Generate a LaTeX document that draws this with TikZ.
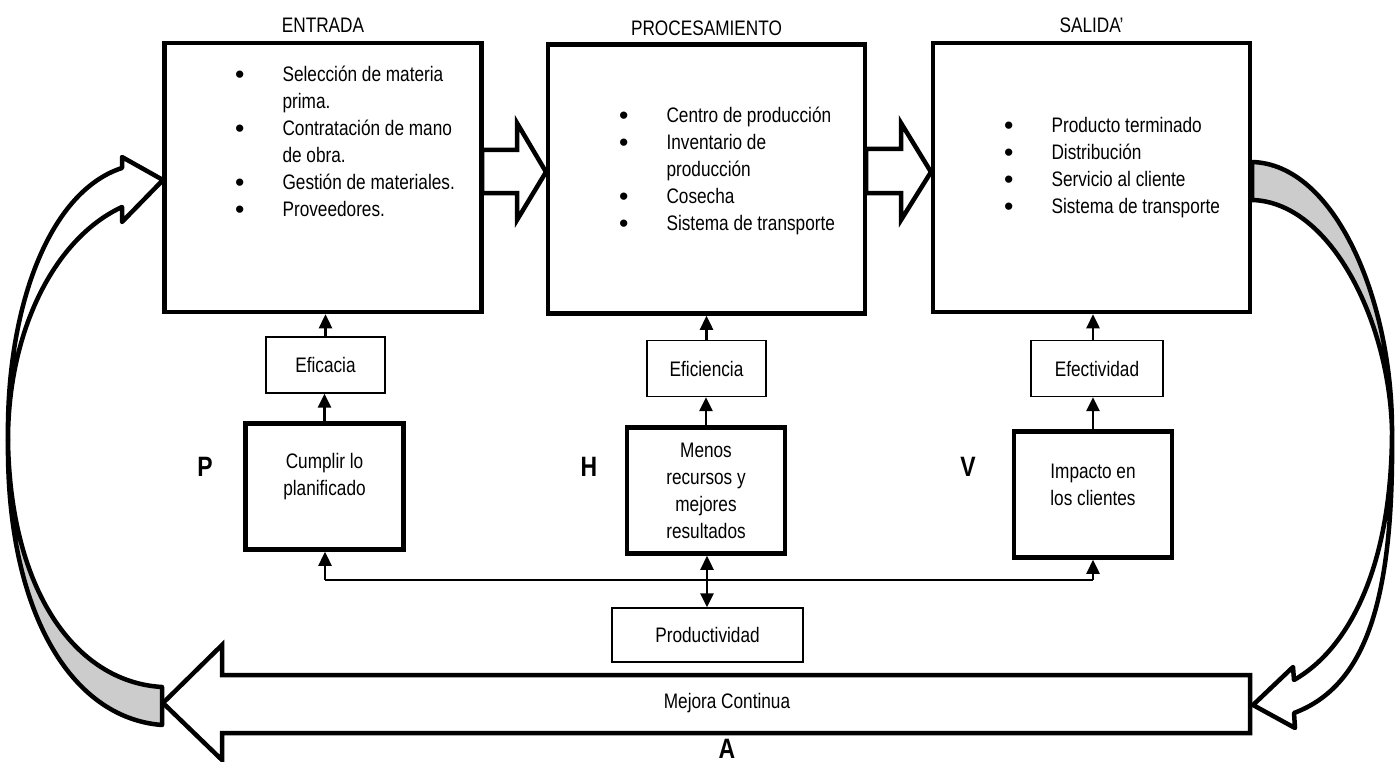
\documentclass[tikz,border=0pt]{standalone}
\usepackage{fontspec}
\setmainfont{Liberation Sans}[FakeStretch=0.82]
\usetikzlibrary{positioning,arrows.meta}

\newcommand{\punto}{\raisebox{-2pt}{\scalebox{1.55}[1.27]{\textbullet}}}

\tikzset{
  >={Triangle[length=14pt,width=13pt]},
  bigbox/.style={draw, line width=4.5pt, minimum width=317pt, minimum height=269pt},
  thinbox/.style={draw, line width=1.3pt, minimum height=56pt},
  thickbox/.style={draw, line width=4.5pt, minimum width=158pt, minimum height=126pt, align=center},
  upper/.style={align=center, yshift=10pt},
  titulo/.style={inner sep=0pt},
  lista/.style={anchor=north west, inner sep=0pt},
  conn/.style={line width=2.4pt},
  bus/.style={line width=2pt},
  hollow/.style={draw, fill=white, line width=4.5pt, miter limit=20},
  ribbon/.style={draw, line width=4.5pt, line join=round},
  letra/.style={font=\fontsize{28}{30}\selectfont\bfseries}
}

\begin{document}
\begin{tikzpicture}[x=1pt, y=-1pt, font=\fontsize{21}{27}\selectfont]
    \useasboundingbox (0,0) rectangle (1396,762);
    % curved arrows
    \filldraw[ribbon, fill=gray!40] (1252,162) .. controls (1335,164) and (1392,300) .. (1392,430) .. controls (1389,320) and (1330,202) .. (1252,200) -- cycle;
    \filldraw[ribbon, fill=white] (1392,430) .. controls (1392,565) and (1350,648) .. (1294,680) -- (1293,667) -- (1253,705) -- (1295,728) -- (1294,713) .. controls (1366,686) and (1394,600) .. (1392,430) -- cycle;
    \filldraw[ribbon, fill=white] (8,440) .. controls (8,330) and (55,238) .. (122,207) -- (122,222) -- (163,180) -- (122,157) -- (122,168) .. controls (48,192) and (6,310) .. (8,440) -- cycle;
    \filldraw[ribbon, fill=gray!40] (8,440) .. controls (10,590) and (75,682) .. (162,687) -- (162,725) .. controls (70,718) and (6,610) .. (8,440) -- cycle;

    % main boxes
    \node[bigbox] (entrada) at (323,177.5) {};
    \node[bigbox] (proc) at (706.5,179) {};
    \node[bigbox] (salida) at (1091.5,177.5) {};
    \node[titulo, above=8pt of entrada] (tEntrada) {ENTRADA};
    \node[titulo, above=6pt of proc] (tProc) {PROCESAMIENTO};
    \node[titulo, above=8pt of salida] (tSalida) {SALIDA’};

    \node[lista] (lEntrada) at (235,62) {\begin{tabular}{@{}l@{\hspace{38pt}}l@{}}
      \punto & Selección de materia\\
             & prima.\\
      \punto & Contratación de mano\\
             & de obra.\\
      \punto & Gestión de materiales.\\
      \punto & Proveedores.
    \end{tabular}};
    \node[lista] (lProc) at (619,103.5) {\begin{tabular}{@{}l@{\hspace{38pt}}l@{}}
      \punto & Centro de producción\\
      \punto & Inventario de\\
             & producción\\
      \punto & Cosecha\\
      \punto & Sistema de transporte
    \end{tabular}};
    \node[lista] (lSalida) at (1004,113.5) {\begin{tabular}{@{}l@{\hspace{38pt}}l@{}}
      \punto & Producto terminado\\
      \punto & Distribución\\
      \punto & Servicio al cliente\\
      \punto & Sistema de transporte
    \end{tabular}};

    % block arrows
    \filldraw[hollow] (482,150) -- (517,150) -- (517,123) -- (546,172) -- (517,220) -- (517,193) -- (482,193) -- cycle;
    \filldraw[hollow] (866,149) -- (901,149) -- (901,123) -- (931,172) -- (901,220) -- (901,193) -- (866,193) -- cycle;

    % indicators
    \node[thinbox, minimum width=119pt] (eficacia) at (325.5,365) {Eficacia};
    \node[thickbox, label={[upper]center:Cumplir lo\\planificado}] (cumplir) at (324.5,486.5) {};
    \node[thinbox, minimum width=119pt] (eficiencia) at (706.5,368.5) {Eficiencia};
    \node[thickbox] (menos) at (706,490.5) {Menos\\recursos y\\mejores\\resultados};
    \node[thinbox, minimum width=132pt] (efectividad) at (1097,368.5) {Efectividad};
    \node[thickbox, label={[upper]center:Impacto en\\los clientes}] (impacto) at (1093,494.5) {};
    \node[thinbox, minimum width=191pt, minimum height=54pt] (productividad) at (707.5,635) {Productividad};

    \node[letra] (P) at (205,467) {P};
    \node[letra] (H) at (589,467) {H};
    \node[letra] (V) at (968,467) {V};

    \draw[conn,->] (eficacia.north) -- (eficacia.north |- entrada.south);
    \draw[conn,->] (cumplir.north) -- (cumplir.north |- eficacia.south);
    \draw[conn,->] (eficiencia.north) -- (eficiencia.north |- proc.south);
    \draw[conn,->] (menos.north) -- (menos.north |- eficiencia.south);
    \draw[conn,->] (impacto.north) -- (impacto.north |- efectividad.south);
    \draw[conn,->] (impacto.north |- efectividad.north) -- (impacto.north |- salida.south);

    \coordinate (bP) at (325,580);
    \coordinate (bH) at (707,580);
    \coordinate (bV) at (1093,580);
    \draw[bus] (bP) -- (bV);
    \draw[conn,->] (bP) -- (bP |- cumplir.south);
    \draw[conn,->] (bV) -- (bV |- impacto.south);
    \draw[conn,->] (bH) -- (bH |- menos.south);
    \draw[conn,->] (bH) -- (bH |- productividad.north);

    % Mejora Continua
    \filldraw[hollow] (1250,675) -- (222,675) -- (222,645) -- (163,703) -- (222,760) -- (222,733) -- (1250,733) -- cycle;
    \node (mejora) at (727,703) {Mejora Continua};
    \node[letra, anchor=base] (A) at (727,758) {A};
\end{tikzpicture}
\end{document}
